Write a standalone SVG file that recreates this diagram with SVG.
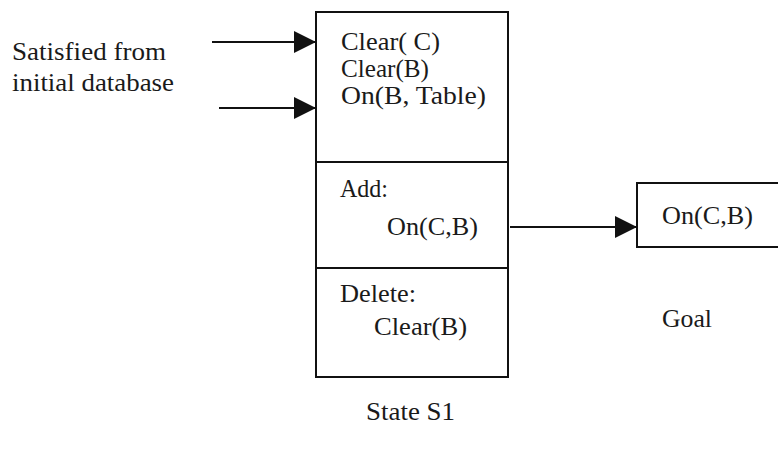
<svg xmlns="http://www.w3.org/2000/svg" width="778" height="450" viewBox="0 0 778 450">
  <style>
    .box { fill: #fff; stroke: #111; stroke-width: 2; }
    .t { font-family: "Liberation Serif", "Times New Roman", serif; font-size: 26px; fill: #1a1a1a; }
    .edge { stroke: #111; stroke-width: 2; fill: none; }
  </style>
  <defs>
    <marker id="arrow" viewBox="0 0 22 22" refX="22" refY="11" markerWidth="22" markerHeight="22" markerUnits="userSpaceOnUse" orient="auto">
      <path d="M0,0 L22,11 L0,22 Z" fill="#111"/>
    </marker>
  </defs>
  <rect width="778" height="450" fill="#fff"/>

  <!-- side note -->
  <g id="note">
    <text class="t" x="12" y="60" textLength="154" lengthAdjust="spacingAndGlyphs">Satisfied from</text>
    <text class="t" x="12" y="91" textLength="162" lengthAdjust="spacingAndGlyphs">initial database</text>
  </g>

  <!-- operator state S1 with its three compartments -->
  <g id="state-s1">
    <rect class="box" x="316" y="12" width="192" height="365"/>
    <line class="edge" x1="316" y1="162" x2="508" y2="162"/>
    <line class="edge" x1="316" y1="268" x2="508" y2="268"/>
    <text class="t" x="341" y="50" textLength="99" lengthAdjust="spacingAndGlyphs">Clear( C)</text>
    <text class="t" x="341" y="77" textLength="88" lengthAdjust="spacingAndGlyphs">Clear(B)</text>
    <text class="t" x="341" y="104" textLength="145" lengthAdjust="spacingAndGlyphs">On(B, Table)</text>
    <text class="t" x="340" y="197" textLength="48" lengthAdjust="spacingAndGlyphs">Add:</text>
    <text class="t" x="387" y="235" textLength="91" lengthAdjust="spacingAndGlyphs">On(C,B)</text>
    <text class="t" x="340" y="302" textLength="76" lengthAdjust="spacingAndGlyphs">Delete:</text>
    <text class="t" x="374" y="335" textLength="93" lengthAdjust="spacingAndGlyphs">Clear(B)</text>
    <text class="t" x="366" y="420" textLength="89" lengthAdjust="spacingAndGlyphs">State  S1</text>
  </g>

  <!-- goal -->
  <g id="goal">
    <rect class="box" x="637" y="183" width="160" height="64"/>
    <text class="t" x="662" y="224" textLength="91" lengthAdjust="spacingAndGlyphs">On(C,B)</text>
    <text class="t" x="662" y="327" textLength="50" lengthAdjust="spacingAndGlyphs">Goal</text>
  </g>

  <g id="connectors">
    <line class="edge" x1="212" y1="42" x2="316" y2="42" marker-end="url(#arrow)"/>
    <line class="edge" x1="219" y1="108" x2="316" y2="108" marker-end="url(#arrow)"/>
    <line class="edge" x1="510" y1="227" x2="637" y2="227" marker-end="url(#arrow)"/>
  </g>
</svg>
